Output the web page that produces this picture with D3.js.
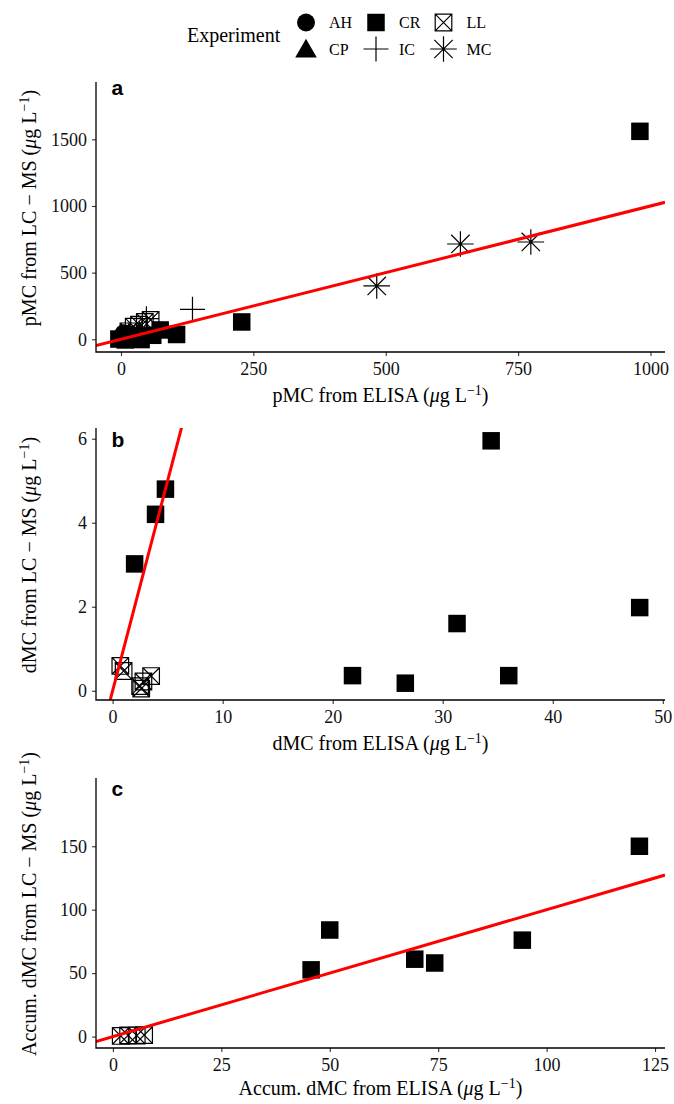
<!DOCTYPE html>
<html>
<head>
<meta charset="utf-8">
<script src="https://cdn.jsdelivr.net/npm/d3@7"></script>
<style>
  body { margin: 0; background: #fff; }
  svg { display: block; }
</style>
</head>
<body>
<svg id="chart" width="674" height="1104"></svg>
<script>
// ---- Experiments (legend order, filled column by column in two rows) ----
const experiments = ["AH", "CP", "CR", "IC", "LL", "MC"];

// ---- Panel a: particulate MC ----
const pmcExp   = ["CR","CR","CR","AH","CP","CR","AH","CP","CR","AH","CP","LL","LL","LL","LL","LL","CR","IC","CR","CR","IC","MC","MC","MC","CR"];
const pmcElisa = [  -4,   8,  22,  10,  15,  38,  20,  30,  60,   5,  35,  14,  24,  34,  45,  56,  74,  48, 105, 228, 135, 483, 641, 774, 980];
const pmcLcms  = [   2,  -5,  10,  20,  50,  -2,  35,  25,  30,  45,  60,  60,  95, 110, 130, 145,  70, 155,  36, 130, 225, 400, 715, 730,1560];
const pmcXTicks = [0, 250, 500, 750, 1000];
const pmcYTicks = [0, 500, 1000, 1500];

// ---- Panel b: dissolved MC ----
const dmcExp   = ["LL","LL","LL","LL","LL","LL","CR","CR","CR","CR","CR","CR","CR","CR","CR"];
const dmcElisa = [ 0.7, 1.0, 2.5, 2.8, 2.6, 3.5, 2.0, 3.9, 4.8,34.4,31.3,47.9,21.8,26.6,36.0];
const dmcLcms  = [0.59,0.47,0.11,0.22,0.05,0.35,3.02, 4.2, 4.8,5.95, 1.6,1.98,0.36,0.18,0.36];
const dmcXTicks = [0, 10, 20, 30, 40, 50];
const dmcYTicks = [0, 2, 4, 6];

// ---- Panel c: accumulated dissolved MC ----
const accExp   = ["LL","LL","LL","LL","CR","CR","CR","CR","CR","CR"];
const accElisa = [ 1.8, 3.5, 5.5, 7.2,45.7,  50,69.6,74.2,94.4,121.4];
const accLcms  = [ 0.5, 1.0, 0.8, 1.2,52.6,  84,  61,  58,  76, 150];
const accXTicks = [0, 25, 50, 75, 100, 125];
const accYTicks = [0, 50, 100, 150];

// 1:1 reference line (intercept, slope)
const refIntercept = 0;
const refSlope = 1;

// ---- layout ----
const serif = "'Liberation Serif', 'Times New Roman', serif";
const sans = "'Liberation Sans', Arial, sans-serif";
const plotLeft = 96, plotRight = 665;

const panels = [
  { tag: "a", exp: pmcExp, xs: pmcElisa, ys: pmcLcms, xTicks: pmcXTicks, yTicks: pmcYTicks,
    xDomain: [-47.2, 1027.4], yDomain: [-95.3, 1930], top: 82, bottom: 352, tagY: 95, titleGap: 50,
    xTitle: "pMC from ELISA (", yTitle: "pMC from LC \u2212 MS (" },
  { tag: "b", exp: dmcExp, xs: dmcElisa, ys: dmcLcms, xTicks: dmcXTicks, yTicks: dmcYTicks,
    xDomain: [-1.51, 50.2], yDomain: [-0.22, 6.255], top: 428, bottom: 700, tagY: 447, titleGap: 50,
    xTitle: "dMC from ELISA (", yTitle: "dMC from LC \u2212 MS (" },
  { tag: "c", exp: accExp, xs: accElisa, ys: accLcms, xTicks: accXTicks, yTicks: accYTicks,
    xDomain: [-3.9, 127.3], yDomain: [-9.0, 203.8], top: 778, bottom: 1048, tagY: 796, titleGap: 47,
    xTitle: "Accum. dMC from ELISA (", yTitle: "Accum. dMC from LC \u2212 MS (" }
];

const svg = d3.select("#chart");
svg.append("rect").attr("width", 674).attr("height", 1104).attr("fill", "#fff");

// marker glyphs for each experiment
function drawMarker(g, code, cx, cy) {
  const t = g.append("g").attr("transform", `translate(${cx},${cy})`);
  const lineStyle = sel => sel.attr("fill", "none").attr("stroke", "#000").attr("stroke-width", 1.2);
  switch (code) {
    case "AH":
      t.append("circle").attr("r", 9).attr("fill", "#000");
      break;
    case "CR":
      t.append("rect").attr("x", -8.75).attr("y", -8.75).attr("width", 17.5).attr("height", 17.5).attr("fill", "#000");
      break;
    case "CP":
      t.append("path").attr("d", "M0,-10.2L10.8,8.6L-10.8,8.6Z").attr("fill", "#000");
      break;
    case "LL":
      lineStyle(t.append("path").attr("d",
        "M-8.3,-8.3H8.3V8.3H-8.3Z M-8.3,-8.3L8.3,8.3 M-8.3,8.3L8.3,-8.3"));
      break;
    case "IC":
      lineStyle(t.append("path").attr("d", "M-12.5,0H12.5M0,-12.5V12.5"));
      break;
    case "MC":
      lineStyle(t.append("path").attr("d",
        "M-13.3,0H13.3M0,-12.8V12.8M-9.2,-9.2L9.2,9.2M-9.2,9.2L9.2,-9.2"));
      break;
  }
}

// axis title with italic mu and superscript -1
function unitTitle(text, prefix) {
  text.append("tspan").text(prefix);
  text.append("tspan").attr("font-style", "italic").text("\u03bc");
  text.append("tspan").text("g L");
  text.append("tspan").attr("dy", -7).attr("font-size", 14).text("\u22121");
  text.append("tspan").attr("dy", 7).text(")");
}

const tickFmt = d3.format("d");

panels.forEach(p => {
  const x = d3.scaleLinear().domain(p.xDomain).range([plotLeft, plotRight]);
  const y = d3.scaleLinear().domain(p.yDomain).range([p.bottom, p.top]);
  const g = svg.append("g");

  const clipId = "clip-" + p.tag;
  svg.append("clipPath").attr("id", clipId)
    .append("rect").attr("x", plotLeft).attr("y", p.top)
    .attr("width", plotRight - plotLeft).attr("height", p.bottom - p.top);

  // points
  const pts = g.append("g");
  p.xs.forEach((v, k) => drawMarker(pts, p.exp[k], x(v), y(p.ys[k])));

  // 1:1 line
  const x0 = p.xDomain[0], x1 = p.xDomain[1];
  g.append("line")
    .attr("clip-path", `url(#${clipId})`)
    .attr("x1", x(x0)).attr("y1", y(refIntercept + refSlope * x0))
    .attr("x2", x(x1)).attr("y2", y(refIntercept + refSlope * x1))
    .attr("stroke", "#ff0000").attr("stroke-width", 3);

  // axes
  const xAxis = g.append("g").attr("transform", `translate(0,${p.bottom})`)
    .call(d3.axisBottom(x).tickValues(p.xTicks).tickFormat(tickFmt)
      .tickSize(4).tickSizeOuter(0).tickPadding(6));
  const yAxis = g.append("g").attr("transform", `translate(${plotLeft},0)`)
    .call(d3.axisLeft(y).tickValues(p.yTicks).tickFormat(tickFmt)
      .tickSize(4).tickSizeOuter(0).tickPadding(5));
  [xAxis, yAxis].forEach(ax => {
    ax.select(".domain").remove();
    ax.selectAll(".tick line").attr("stroke", "#333").attr("stroke-width", 1.1);
    ax.selectAll(".tick text").attr("font-family", serif).attr("font-size", 18).attr("fill", "#111");
  });
  // axis lines meeting at the corner
  g.append("path")
    .attr("d", `M${plotLeft},${p.top}V${p.bottom}H${plotRight}`)
    .attr("fill", "none").attr("stroke", "#000").attr("stroke-width", 1.3)
    .attr("stroke-linejoin", "miter");

  // panel tag
  g.append("text").attr("x", plotLeft + 15.5).attr("y", p.tagY)
    .attr("font-family", sans).attr("font-weight", "bold").attr("font-size", 21)
    .attr("fill", "#000").text(p.tag);

  // axis titles
  const xt = g.append("text").attr("x", (plotLeft + plotRight) / 2).attr("y", p.bottom + p.titleGap)
    .attr("text-anchor", "middle").attr("font-family", serif).attr("font-size", 20).attr("fill", "#000");
  unitTitle(xt, p.xTitle);
  const cy = (p.top + p.bottom) / 2 - 9;
  const yt = g.append("text").attr("transform", `translate(36,${cy}) rotate(-90)`)
    .attr("text-anchor", "middle").attr("font-family", serif).attr("font-size", 20).attr("fill", "#000");
  unitTitle(yt, p.yTitle);
});

// ---- legend ----
const legend = svg.append("g");
legend.append("text").attr("x", 187).attr("y", 42).attr("font-family", serif)
  .attr("font-size", 20).attr("fill", "#000").text("Experiment");
const colX = [306, 376, 443.5];
const rowY = [22.5, 49];
experiments.forEach((code, k) => {
  const col = Math.floor(k / 2), row = k % 2;
  drawMarker(legend, code, colX[col], rowY[row]);
  legend.append("text").attr("x", colX[col] + 23).attr("y", rowY[row] + 5.5)
    .attr("font-family", serif).attr("font-size", 16).attr("fill", "#000").text(code);
});
</script>
</body>
</html>
